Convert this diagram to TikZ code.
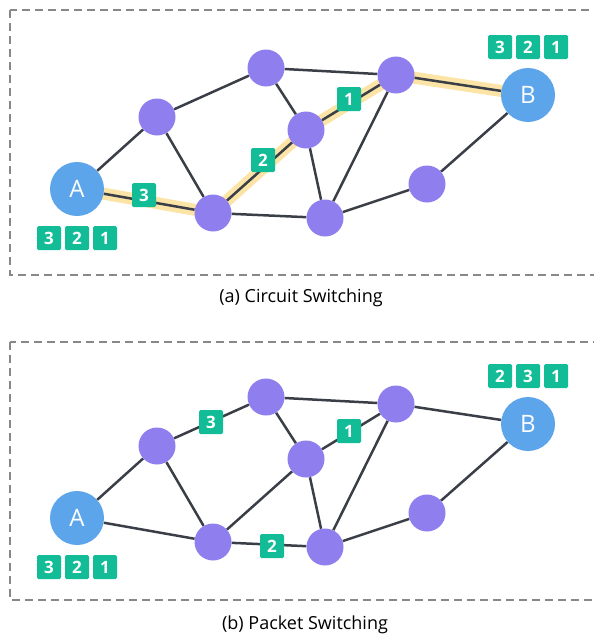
\documentclass[tikz,border=0pt]{standalone}
\usepackage{fontspec}
\setmainfont{Open Sans}
\usetikzlibrary{backgrounds}
\definecolor{hostblue}{RGB}{93,165,234}
\definecolor{routerpurple}{RGB}{143,126,238}
\definecolor{pktgreen}{RGB}{18,188,150}
\definecolor{linkgray}{RGB}{58,63,71}
\definecolor{pathyellow}{RGB}{252,228,166}
\definecolor{framegray}{RGB}{136,136,136}
\tikzset{
  host/.style={circle, fill=hostblue, minimum size=54pt, inner sep=0pt, text=white, font=\fontsize{24}{24}\selectfont},
  router/.style={circle, fill=routerpurple, minimum size=37pt, inner sep=0pt},
  pkt/.style={fill=pktgreen, rounded corners=1.5pt, minimum size=24pt, inner sep=0pt, text=white, font=\bfseries\fontsize{17}{17}\selectfont},
  link/.style={draw=linkgray, line width=2.5pt},
  circuit/.style={draw=pathyellow, line width=12pt},
  frame/.style={draw=framegray, line width=1.5pt, dash pattern=on 8pt off 5pt},
  caption/.style={font=\fontsize{18}{18}\selectfont}
}

\begin{document}
\begin{tikzpicture}[x=1pt, y=-1pt]
	\useasboundingbox (0,0) rectangle (594,637);
	%%%%% FRAMES %%%%%
	\draw[frame] (10,10) rectangle (600,275);
	\draw[frame] (10,342) rectangle (600,600);
	\node[caption] (capa) at (301,298) {(a) Circuit Switching};
	\node[caption] (capb) at (305,625) {(b) Packet Switching};
	
	%%%%% NETWORK (same in both panels) %%%%%
	\foreach \p/\dy in {a/0, b/329}{
		\node[host] (\p A) at (77,{189+\dy}) {A};
		\node[host] (\p B) at (528,{95+\dy}) {B};
		\node[router] (\p n1) at (157,{117+\dy}) {};
		\node[router] (\p n2) at (266,{68+\dy}) {};
		\node[router] (\p n3) at (213,{213+\dy}) {};
		\node[router] (\p n4) at (306,{130+\dy}) {};
		\node[router] (\p n5) at (396,{75+\dy}) {};
		\node[router] (\p n6) at (325,{218+\dy}) {};
		\node[router] (\p n7) at (427,{184+\dy}) {};
	}
	
	\begin{scope}[on background layer]
		% reserved circuit A -> B
		\draw[circuit] (aA.center) -- (an3.center) -- (an4.center) -- (an5.center) -- (aB.center);
		\foreach \p in {a,b}{
			\foreach \s/\t in {A/n1, A/n3, n1/n2, n1/n3, n2/n5, n2/n4, n3/n4, n3/n6, n4/n5, n4/n6, n5/n6, n5/B, n6/n7, n7/B}
				\draw[link] (\p\s) -- (\p\t);
		}
	\end{scope}
	
	%%%%% PACKETS %%%%%
	% (a) all packets follow the circuit
	\node[pkt] (apk3) at (144,195) {3};
	\node[pkt] (apk2) at (263,160) {2};
	\node[pkt] (apk1) at (349,99) {1};
	% (b) packets take different routes
	\node[pkt] (bpk3) at (211,422) {3};
	\node[pkt] (bpk2) at (272,546) {2};
	\node[pkt] (bpk1) at (349,431) {1};
	
	% queues at the hosts
	\foreach \p/\dy in {a/0, b/329}{
		\node[pkt] (\p Aq3) at (49,{238+\dy}) {3};
		\node[pkt] (\p Aq2) at (77,{238+\dy}) {2};
		\node[pkt] (\p Aq1) at (105,{238+\dy}) {1};
	}
	\node[pkt] (aBq3) at (500,47) {3};
	\node[pkt] (aBq2) at (528,47) {2};
	\node[pkt] (aBq1) at (556,47) {1};
	\node[pkt] (bBq2) at (500,376) {2};
	\node[pkt] (bBq3) at (528,376) {3};
	\node[pkt] (bBq1) at (556,376) {1};
\end{tikzpicture}
\end{document}
